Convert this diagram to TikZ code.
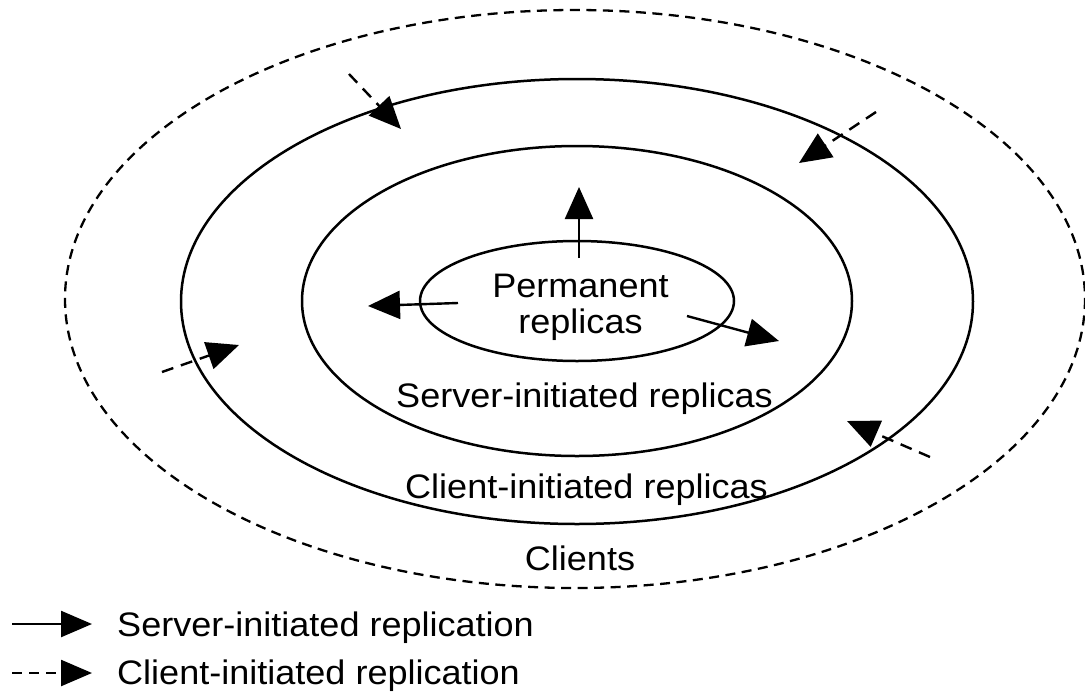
\documentclass[tikz,border=0pt]{standalone}
\usepackage{fontspec}
\setmainfont{Liberation Sans}
\usetikzlibrary{arrows.meta}
\begin{document}
\begin{tikzpicture}[x=1pt, y=-1pt,
  ring/.style={line width=2.5pt},
  clientring/.style={line width=2.3pt, dash pattern=on 10pt off 6.5pt},
  srvarrow/.style={line width=2.4pt, -{Triangle[length=32pt, width=28pt]}},
  cliarrow/.style={srvarrow, dash pattern=on 12pt off 8pt},
  keyarrow/.style={line width=2.4pt, -{Triangle[length=31pt, width=26pt]}},
  lbl/.style={font=\fontsize{34}{36}\selectfont, inner sep=0pt, xscale=1.06, transform shape}]
\useasboundingbox (0,0) rectangle (1085,694);

% concentric zones
\draw[clientring] (575,299) ellipse [x radius=510, y radius=289];
\draw[ring] (577,301.5) ellipse [x radius=396, y radius=222.5];
\draw[ring] (577,301) ellipse [x radius=275, y radius=155];
\draw[ring] (577,301) ellipse [x radius=157, y radius=60];

% zone labels
\node[lbl, anchor=base] (perm1) at (580.5,297) {Permanent};
\node[lbl, anchor=base] (perm2) at (580.5,333) {replicas};
\node[lbl, anchor=base] (srvzone) at (584.5,407) {Server-initiated replicas};
\node[lbl, anchor=base] (clizone) at (586.5,498) {Client-initiated replicas};
\node[lbl, anchor=base] (clients) at (580,570) {Clients};

% server-initiated replication (from permanent replicas outward)
\coordinate (s1a) at (579,258);  \coordinate (s1b) at (579,187);
\coordinate (s2a) at (458,303);  \coordinate (s2b) at (368,306);
\coordinate (s3a) at (687,316);  \coordinate (s3b) at (779,341);
\draw[srvarrow] (s1a) -- (s1b);
\draw[srvarrow] (s2a) -- (s2b);
\draw[srvarrow] (s3a) -- (s3b);

% client-initiated replication (from clients inward)
\coordinate (c1a) at (349,74);   \coordinate (c1b) at (401,129);
\coordinate (c2a) at (876,112);  \coordinate (c2b) at (799,163);
\coordinate (c3a) at (162,372);  \coordinate (c3b) at (239,345);
\coordinate (c4a) at (930,457);  \coordinate (c4b) at (847,421);
\draw[cliarrow] (c1a) -- (c1b);
\draw[cliarrow] (c2a) -- (c2b);
\draw[cliarrow] (c3a) -- (c3b);
\draw[cliarrow] (c4a) -- (c4b);

% key
\coordinate (k1a) at (12,624);  \coordinate (k1b) at (92,624);
\coordinate (k2a) at (12,673);  \coordinate (k2b) at (92,673);
\draw[keyarrow] (k1a) -- (k1b);
\draw[keyarrow, dash pattern=on 10pt off 7pt] (k2a) -- (k2b);
\node[lbl, anchor=base west] (key1) at (117,636) {Server-initiated replication};
\node[lbl, anchor=base west] (key2) at (117,684) {Client-initiated replication};
\end{tikzpicture}
\end{document}
